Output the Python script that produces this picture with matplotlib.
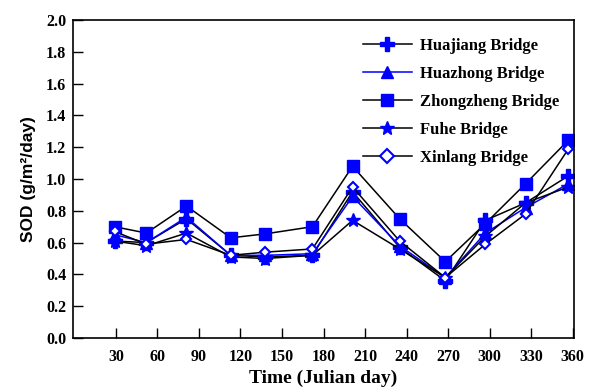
import matplotlib.pyplot as plt

days = [29, 52, 81, 113, 138, 172, 201, 235, 268, 297, 326, 357]

huajiang   = [0.61, 0.60, 0.75, 0.52, 0.51, 0.52, 0.92, 0.57, 0.36, 0.74, 0.85, 1.02]
huazhong   = [0.65, 0.60, 0.76, 0.52, 0.52, 0.53, 0.89, 0.58, 0.38, 0.66, 0.82, 0.97]
zhongzheng = [0.70, 0.66, 0.83, 0.63, 0.655, 0.70, 1.08, 0.75, 0.48, 0.72, 0.97, 1.245]
fuhe       = [0.61, 0.58, 0.66, 0.51, 0.50, 0.52, 0.74, 0.56, 0.38, 0.64, 0.85, 0.95]
xinlang    = [0.67, 0.59, 0.62, 0.52, 0.54, 0.56, 0.95, 0.61, 0.38, 0.59, 0.78, 1.19]

serif = "Liberation Serif"
blue = "#0000ff"

fig = plt.figure(figsize=(5.99, 3.89), dpi=100)
ax = fig.add_axes([73 / 599, 51 / 389, 501 / 599, 318 / 389])

ax.plot(days, huajiang, color="black", lw=1.1, marker="P", ms=10,
        mfc=blue, mec=blue, label="Huajiang Bridge")
ax.plot(days, huazhong, color=blue, lw=1.1, marker="^", ms=9,
        mfc=blue, mec=blue, label="Huazhong Bridge")
ax.plot(days, zhongzheng, color="black", lw=1.1, marker="s", ms=8.5,
        mfc=blue, mec=blue, label="Zhongzheng Bridge")
ax.plot(days, fuhe, color="black", lw=1.1, marker="*", ms=10,
        mfc=blue, mec=blue, label="Fuhe Bridge")
ax.plot(days, xinlang, color="black", lw=1.1, marker="D", ms=5, mew=1.5,
        mfc="white", mec=blue, label="Xinlang Bridge")

ax.set_xlim(-1, 361)
ax.set_ylim(0, 2.0)
ax.set_xticks(range(30, 361, 30))
ax.set_yticks([i / 10 for i in range(0, 21, 2)])
ax.set_yticklabels(["%.1f" % (i / 10) for i in range(0, 21, 2)])
ax.tick_params(direction="in", length=7, width=1, top=False, right=False)
ax.tick_params(axis="x", pad=8)
ax.tick_params(axis="y", pad=5)
for lbl in ax.get_xticklabels() + ax.get_yticklabels():
    lbl.set_fontfamily(serif)
    lbl.set_fontweight("bold")
    lbl.set_fontsize(11.5)
for s in ax.spines.values():
    s.set_linewidth(1.2)

ax.set_xlabel("Time (Julian day)", family=serif, weight="bold", fontsize=14, labelpad=3)
ax.set_ylabel("SOD (g/m²/day)", family="Liberation Sans", weight="bold",
              fontsize=12.5, labelpad=7)

leg = ax.legend(loc="upper right", bbox_to_anchor=(1.007, 1.0), frameon=False,
                handlelength=2.9, handletextpad=0.5,
                labelspacing=0.72, borderpad=0.6,
                prop={"family": serif, "weight": "bold", "size": 12})
leg.legend_handles[4].set_markersize(7)

plt.savefig("out.png", dpi=100)
